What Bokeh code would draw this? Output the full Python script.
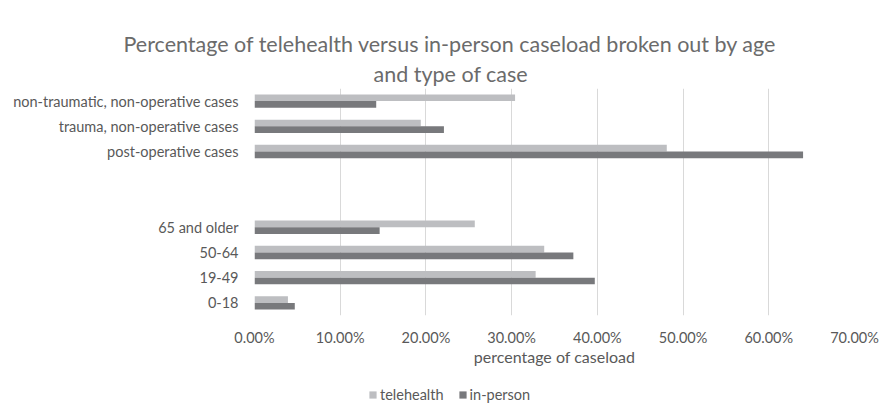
from bokeh.plotting import figure
from bokeh.layouts import column
from bokeh.models import (Range1d, FactorRange, ColumnDataSource, FixedTicker,
                          NumeralTickFormatter, Legend, LegendItem, Title)
from bokeh.transform import dodge
from bokeh.embed import file_html
from bokeh.resources import INLINE

# ---- data ----
categories = ["0-18", "19-49", "50-64", "65 and older", " ", "  ",
              "post-operative cases", "trauma, non-operative cases",
              "non-traumatic, non-operative cases"]
telehealth = [0.039, 0.328, 0.338, 0.257, 0.0, 0.0, 0.481, 0.194, 0.304]
in_person = [0.047, 0.397, 0.372, 0.146, 0.0, 0.0, 0.640, 0.221, 0.142]
x_ticks = [0.0, 0.1, 0.2, 0.3, 0.4, 0.5, 0.6, 0.7]
title_lines = ["Percentage of telehealth versus in-person caseload broken out by age",
               "and type of case"]
x_label = "percentage of caseload"
series_names = ["telehealth", "in-person"]

FONT = "Lato"
TEXT = "#595959"
C_TELE = "#bdbec1"
C_INP = "#78797c"

src = ColumnDataSource(dict(cat=categories, tele=telehealth, inp=in_person))

p = figure(frame_width=600, frame_height=227, output_backend="svg",
           toolbar_location=None, title=None,
           x_range=Range1d(0, 0.7), y_range=FactorRange(*categories),
           min_border_left=254, min_border_right=25,
           min_border_top=88, min_border_bottom=54)
p.outline_line_color = None
p.background_fill_color = "white"
p.border_fill_color = "white"

bw = 0.265
r1 = p.hbar(y=dodge("cat", bw / 2, range=p.y_range), right="tele", left=0,
            height=bw, source=src, fill_color=C_TELE, line_color=None)
r2 = p.hbar(y=dodge("cat", -bw / 2, range=p.y_range), right="inp", left=0,
            height=bw, source=src, fill_color=C_INP, line_color=None)

# axes
p.xaxis.ticker = FixedTicker(ticks=x_ticks)
p.xaxis.formatter = NumeralTickFormatter(format="0.00%")
p.xaxis.axis_line_color = None
p.xaxis.major_tick_line_color = None
p.xaxis.minor_tick_line_color = None
p.xaxis.major_label_text_font = FONT
p.xaxis.major_label_text_font_size = "14.5px"
p.xaxis.major_label_text_color = TEXT
p.xaxis.major_label_standoff = 7
p.xaxis.axis_label = x_label
p.xaxis.axis_label_text_font = FONT
p.xaxis.axis_label_text_font_size = "16px"
p.xaxis.axis_label_text_font_style = "normal"
p.xaxis.axis_label_text_color = TEXT
p.xaxis.axis_label_standoff = -2

p.yaxis.axis_line_color = None
p.yaxis.major_tick_line_color = None
p.yaxis.minor_tick_line_color = None
p.yaxis.major_label_text_font = FONT
p.yaxis.major_label_text_font_size = "14.5px"
p.yaxis.major_label_text_color = TEXT
p.yaxis.major_label_standoff = 10

p.xgrid.ticker = FixedTicker(ticks=x_ticks)
p.xgrid.grid_line_color = "#d9d9d9"
p.xgrid.grid_line_width = 1
p.ygrid.grid_line_color = None

# title (second line added first: closest to the plot)
offsets = [-131, 119]
standoffs = [0, 4]
for t, off, so in reversed(list(zip(title_lines, offsets, standoffs))):
    p.add_layout(Title(text=t, align="left", offset=off, text_font=FONT,
                       text_font_size="21.5px", text_font_style="normal",
                       text_color="#6b6b6b", standoff=so), "above")

# legend strip below the chart (hidden copies of the series act as legend keys)
lg = figure(width=879, height=45, output_backend="svg", toolbar_location=None,
            title=None, x_axis_type=None, y_axis_type=None,
            x_range=Range1d(0, 0.7), y_range=FactorRange(*categories),
            min_border=0, min_border_left=0, min_border_right=0,
            min_border_top=0, min_border_bottom=0)
lg.outline_line_color = None
lg.background_fill_color = "white"
lg.border_fill_color = "white"
k1 = lg.hbar(y="cat", right="tele", left=0, height=bw, source=src,
             fill_color=C_TELE, line_color=None, visible=False)
k2 = lg.hbar(y="cat", right="inp", left=0, height=bw, source=src,
             fill_color=C_INP, line_color=None, visible=False)
legend = Legend(items=[LegendItem(label=series_names[0], renderers=[k1]),
                       LegendItem(label=series_names[1], renderers=[k2])],
                orientation="horizontal", location=(114, 11),
                glyph_width=9, glyph_height=9, label_height=16,
                label_standoff=3, spacing=14, padding=0, margin=0,
                border_line_color=None, background_fill_alpha=0,
                inactive_fill_alpha=0,
                label_text_font=FONT, label_text_font_size="14.5px",
                label_text_color=TEXT)
lg.add_layout(legend, "center")

layout = column(p, lg, spacing=0)
open("out.html", "w").write(file_html(layout, INLINE))
